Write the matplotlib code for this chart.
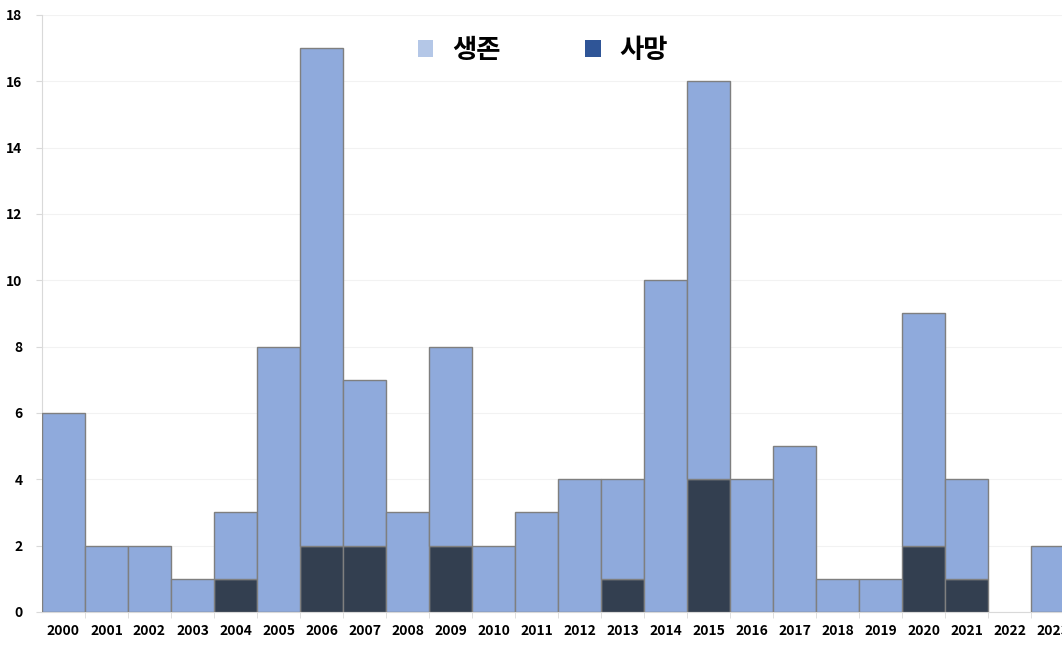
import matplotlib.pyplot as plt
from matplotlib.patches import Patch

plt.rcParams['font.family'] = ['Noto Sans CJK KR', 'DejaVu Sans']

# yearly cases: total and deaths
years = [str(y) for y in range(2000, 2024)]
total = [6, 2, 2, 1, 3, 8, 17, 7, 3, 8, 2, 3, 4, 4, 10, 16, 4, 5, 1, 1, 9, 4, 0, 2]
deaths = [0, 0, 0, 0, 1, 0, 2, 2, 0, 2, 0, 0, 0, 1, 0, 4, 0, 0, 0, 0, 2, 1, 0, 0]
survived = [t - d for t, d in zip(total, deaths)]

fig = plt.figure(figsize=(10.62, 6.47), dpi=100)
ax = fig.add_axes([0.0395, 0.0541, 0.972, 0.923])

x = list(range(len(years)))
# empty years get no outline
dead_edges = ['#7f7f7f' if d > 0 else 'none' for d in deaths]
surv_edges = ['#7f7f7f' if s > 0 else 'none' for s in survived]
ax.bar(x, deaths, width=1.0, color='#333f50', edgecolor=dead_edges, linewidth=1.0, zorder=3)
ax.bar(x, survived, bottom=deaths, width=1.0, color='#8faadc', edgecolor=surv_edges,
       linewidth=1.0, zorder=3)

ax.set_xlim(-0.5, len(years) - 0.5)
ax.set_ylim(0, 18)
ax.set_yticks(range(0, 19, 2))
ax.set_xticks(x)
ax.set_xticklabels(years)
ax.set_xticks([i + 0.5 for i in x[:-1]], minor=True)

for lbl in ax.get_xticklabels() + ax.get_yticklabels():
    lbl.set_fontweight('bold')
    lbl.set_fontsize(10)

ax.tick_params(axis='x', which='major', length=0, pad=9)
ax.tick_params(axis='x', which='minor', length=4, color='#d9d9d9')
ax.tick_params(axis='y', length=4, color='#d9d9d9', pad=10)

ax.grid(axis='y', color='#f2f2f2', linewidth=0.8, zorder=0)
for side in ['top', 'right']:
    ax.spines[side].set_visible(False)
ax.spines['left'].set_color('#d9d9d9')
ax.spines['bottom'].set_color('#d9d9d9')

handles = [Patch(facecolor='#b4c7e7', edgecolor='none'),
           Patch(facecolor='#2f5597', edgecolor='none')]
fig.legend(handles, ['생존', '사망'], loc='center', bbox_to_anchor=(0.511, 0.922), ncol=2,
           frameon=False, prop={'size': 19, 'weight': 'bold'}, handlelength=0.6,
           handleheight=0.6, columnspacing=3.2, handletextpad=0.7)

fig.savefig('out.png', dpi=100)
